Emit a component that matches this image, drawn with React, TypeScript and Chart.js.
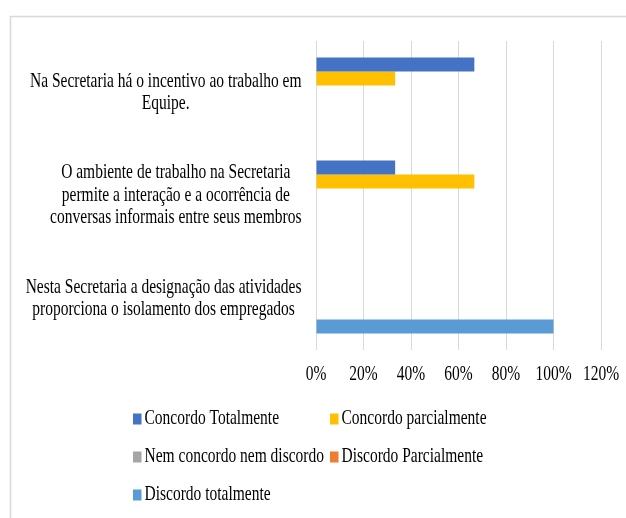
import React, { useEffect, useRef } from "react";
import { Chart, registerables } from "chart.js";

Chart.register(...registerables);

const categories: string[][] = [
  ["Na Secretaria há o incentivo ao trabalho em", "Equipe."],
  [
    "O ambiente de trabalho na Secretaria",
    "permite a interação e a ocorrência de",
    "conversas informais entre seus membros",
  ],
  ["Nesta Secretaria a designação das atividades", "proporciona o isolamento dos empregados"],
];

const seriesNames = [
  "Concordo Totalmente",
  "Concordo parcialmente",
  "Nem concordo nem discordo",
  "Discordo Parcialmente",
  "Discordo totalmente",
];
const concordoTotalmente = [66.67, 33.33, 0];
const concordoParcialmente = [33.33, 66.67, 0];
const nemConcordoNemDiscordo = [0, 0, 0];
const discordoParcialmente = [0, 0, 0];
const discordoTotalmente = [0, 0, 100];
const seriesColors = ["#4472C4", "#FFC000", "#A5A5A5", "#ED7D31", "#5B9BD5"];

const xMin = 0;
const xMax = 120;
const xStep = 20;

const FONT = '15.5px "Liberation Serif", "Times New Roman", serif';
const SY = 1.3;

function txt(ctx: CanvasRenderingContext2D, s: string, x: number, y: number, align: CanvasTextAlign) {
  ctx.save();
  ctx.translate(x, y);
  ctx.scale(1, SY);
  ctx.textAlign = align;
  ctx.textBaseline = "middle";
  ctx.fillText(s, 0, 0);
  ctx.restore();
}

const customPlugin = {
  id: "customDecor",
  beforeDraw(chart: any) {
    const ctx = chart.ctx as CanvasRenderingContext2D;
    ctx.save();
    ctx.fillStyle = "#ffffff";
    ctx.fillRect(0, 0, chart.width, chart.height);
    ctx.strokeStyle = "#d9d9d9";
    ctx.lineWidth = 1.5;
    ctx.beginPath();
    ctx.moveTo(10.5, chart.height);
    ctx.lineTo(10.5, 16.5);
    ctx.lineTo(chart.width, 16.5);
    ctx.stroke();
    ctx.restore();
  },
  afterDraw(chart: any) {
    const ctx = chart.ctx as CanvasRenderingContext2D;
    const ys = chart.scales.y;
    const xs = chart.scales.x;
    const area = chart.chartArea;
    ctx.save();
    ctx.font = FONT;
    ctx.fillStyle = "#000000";
    // category labels
    const right = area.left - 14.5;
    const lh = 22.5;
    ys.ticks.forEach((_t: any, i: number) => {
      const lines = chart.data.labels[i] as string[];
      const w = Math.max(...lines.map((l) => ctx.measureText(l).width));
      const cx = right - w / 2;
      const cy = ys.getPixelForTick(i);
      lines.forEach((l, j) => txt(ctx, l, cx, cy + (j - (lines.length - 1) / 2) * lh, "center"));
    });
    // x tick labels
    xs.ticks.forEach((t: any, i: number) => {
      txt(ctx, Math.round(t.value) + "%", xs.getPixelForTick(i), area.bottom + 25, "center");
    });
    // legend
    const colX = [133, 330];
    chart.data.datasets.forEach((ds: any, i: number) => {
      const col = i % 2;
      const row = Math.floor(i / 2);
      const x = colX[col];
      const y = 419 + row * 38;
      ctx.fillStyle = ds.backgroundColor;
      ctx.fillRect(x, y - 5.5, 8.5, 11);
      ctx.fillStyle = "#000000";
      txt(ctx, ds.label, x + 11.5, y, "left");
    });
    ctx.restore();
  },
};

export default function App() {
  const ref = useRef<HTMLCanvasElement | null>(null);
  useEffect(() => {
    if (!ref.current) return;
    const values = [
      concordoTotalmente,
      concordoParcialmente,
      nemConcordoNemDiscordo,
      discordoParcialmente,
      discordoTotalmente,
    ];
    const chart = new Chart(ref.current, {
      type: "bar",
      data: {
        labels: categories as any,
        datasets: seriesNames.map((name, i) => ({
          label: name,
          data: values[i],
          backgroundColor: seriesColors[i],
          borderWidth: 0,
          categoryPercentage: 0.68,
          barPercentage: 1,
        })),
      },
      options: {
        indexAxis: "y",
        responsive: false,
        animation: false,
        layout: { padding: { left: 316, right: 25, top: 41, bottom: 168 } },
        plugins: { legend: { display: false }, tooltip: { enabled: false } },
        scales: {
          x: {
            min: xMin,
            max: xMax,
            ticks: { stepSize: xStep, display: false },
            grid: { color: "#d9d9d9", drawTicks: false, lineWidth: 1 },
            border: { display: false },
          },
          y: {
            ticks: { display: false },
            grid: { display: false, drawTicks: false },
            border: { display: false },
          },
        },
      },
      plugins: [customPlugin],
    });
    return () => chart.destroy();
  }, []);
  return (
    <div style={{ position: "fixed", left: 0, top: 0, width: 626, height: 518, background: "#fff" }}>
      <canvas ref={ref} width={626} height={518} style={{ display: "block" }} />
    </div>
  );
}
